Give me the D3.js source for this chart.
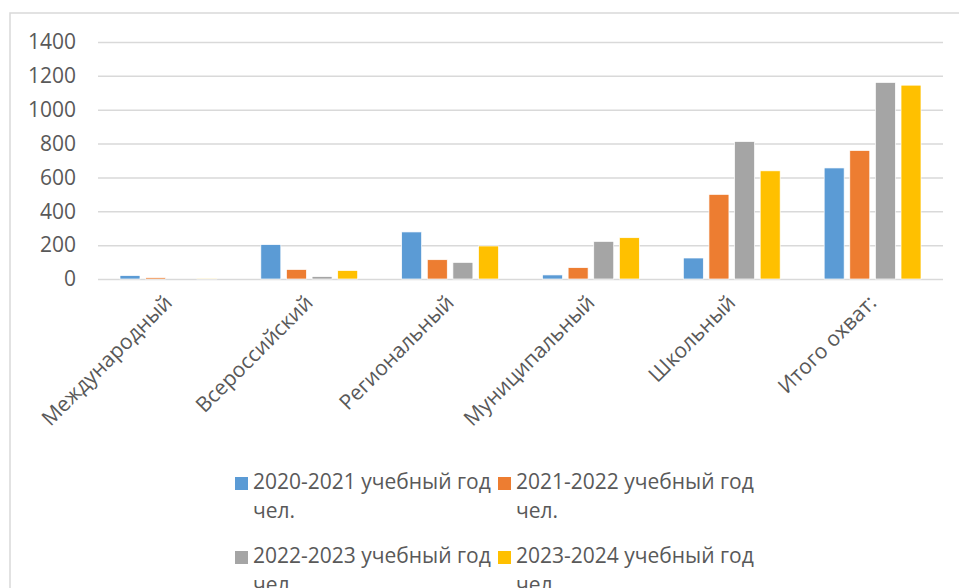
<!DOCTYPE html>
<html>
<head>
<meta charset="utf-8">
<script src="https://cdnjs.cloudflare.com/ajax/libs/d3/7.8.5/d3.min.js"></script>
<style>
  body { margin: 0; background: #fff; }
  svg text { font-family: "Open Sans", sans-serif; fill: #595959; }
</style>
</head>
<body>
<div id="chart"></div>
<script>
// categories and series
var categories = ["Международный", "Всероссийский", "Региональный", "Муниципальный", "Школьный", "Итого охват:"];
var seriesNames = ["2020-2021 учебный год", "2021-2022 учебный год", "2022-2023 учебный год", "2023-2024 учебный год"];
var seriesUnit = "чел.";
var values2020 = [20, 203, 278, 24, 124, 656];
var values2021 = [8, 56, 114, 67, 500, 759];
var values2022 = [0, 14, 98, 222, 812, 1161];
var values2023 = [2, 50, 195, 244, 639, 1145];
var yTicks = [0, 200, 400, 600, 800, 1000, 1200, 1400];
var colors = ["#5b9bd5", "#ed7d31", "#a5a5a5", "#ffc000"];

var allValues = [values2020, values2021, values2022, values2023];

var W = 959, H = 588;
// plot area (not named "top": that clashes with window.top)
var plotLeft = 98, plotRight = 943, plotTop = 42, plotBottom = 279;

var svg = d3.select("#chart").append("svg")
  .attr("width", W)
  .attr("height", H);

// chart frame
svg.append("rect")
  .attr("x", 10).attr("y", 13)
  .attr("width", W + 20).attr("height", H + 20)
  .style("fill", "none")
  .style("stroke", "#d9d9d9")
  .style("stroke-width", "1.5px");

var y = d3.scaleLinear().domain([0, 1400]).range([plotBottom, plotTop]);
var x0 = d3.scaleBand().domain(categories).range([plotLeft, plotRight]).paddingInner(0).paddingOuter(0);
var x1 = d3.scaleBand().domain(d3.range(seriesNames.length))
  .range([22, x0.bandwidth() - 22]).paddingInner(0.22).paddingOuter(0);

// value axis with gridlines
var yAxis = svg.append("g")
  .attr("transform", "translate(" + plotLeft + ",0)")
  .call(d3.axisLeft(y).tickValues(yTicks).tickFormat(d3.format("d"))
    .tickSize(-(plotRight - plotLeft)).tickPadding(22));
yAxis.select(".domain").remove();
yAxis.selectAll("line").style("stroke", "#d9d9d9").style("stroke-width", "1.5px");
yAxis.selectAll("text").style("font-size", "21px").style("font-family", "'Open Sans', sans-serif").style("fill", "#595959");

// bars
var groups = svg.selectAll("g.cat")
  .data(categories)
  .enter().append("g")
  .attr("class", "cat")
  .attr("transform", function(d) { return "translate(" + x0(d) + ",0)"; });

groups.selectAll("rect")
  .data(function(d, i) { return allValues.map(function(s, k) { return {k: k, v: s[i]}; }); })
  .enter().append("rect")
  .attr("x", function(d) { return x1(d.k); })
  .attr("width", x1.bandwidth())
  .attr("y", function(d) { return y(d.v); })
  .attr("height", function(d) { return plotBottom - y(d.v); })
  .style("fill", function(d) { return colors[d.k]; })
  .style("stroke", "#fff")
  .style("stroke-width", "0.7px");

// category axis, labels turned 45 degrees
var xAxis = svg.append("g")
  .attr("transform", "translate(0," + plotBottom + ")")
  .call(d3.axisBottom(x0).tickSize(0).tickPadding(0));
xAxis.select(".domain").remove();
xAxis.selectAll("text")
  .attr("x", 0).attr("y", 0).attr("dy", null)
  .attr("transform", "translate(5,25) rotate(-45)")
  .style("text-anchor", "end")
  .style("font-size", "21px")
  .style("font-family", "'Open Sans', sans-serif")
  .style("fill", "#595959");

// legend, two columns, names wrap onto a second line
var legendX = [235, 498];
var legendY = [489, 563];
var legend = svg.selectAll("g.legend")
  .data(seriesNames)
  .enter().append("g")
  .attr("class", "legend")
  .attr("transform", function(d, i) { return "translate(" + legendX[i % 2] + "," + legendY[Math.floor(i / 2)] + ")"; });

legend.append("rect")
  .attr("x", 0).attr("y", -12)
  .attr("width", 13).attr("height", 13)
  .style("fill", function(d, i) { return colors[i]; });

var lt = legend.append("text")
  .attr("x", 18).attr("y", 0)
  .style("font-size", "21px");
lt.append("tspan").attr("x", 18).text(function(d) { return d; });
lt.append("tspan").attr("x", 18).attr("dy", 29).text(seriesUnit);
</script>
</body>
</html>
